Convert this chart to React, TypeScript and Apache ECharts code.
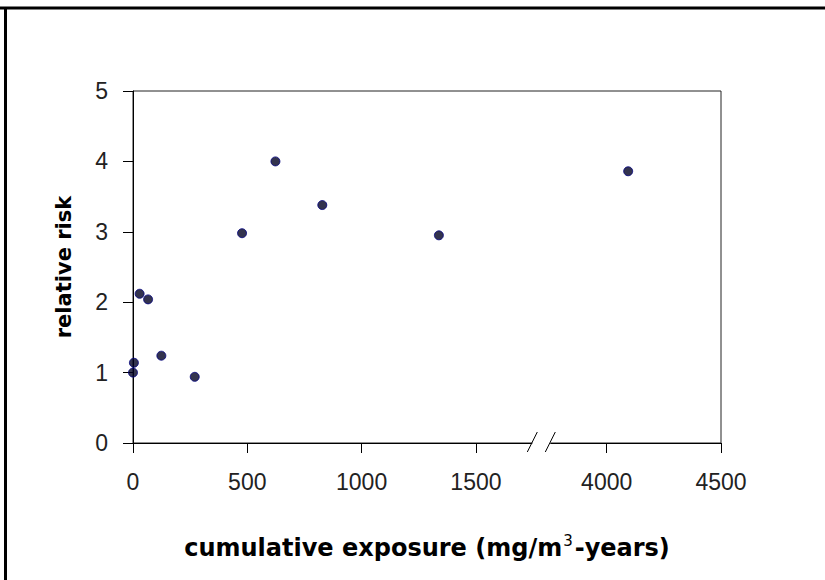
import React, { useEffect, useRef } from "react";
import * as echarts from "echarts";

// cumulative exposure (mg/m3-years), real values
const exposure = [0, 4, 29, 66, 124, 270, 477, 623, 828, 1338, 4094];
// relative risk
const relativeRisk = [1.0, 1.14, 2.12, 2.04, 1.24, 0.94, 2.98, 4.0, 3.38, 2.95, 3.86];
// x tick labels (real values)
const xTickLabels = [0, 500, 1000, 1500, 4000, 4500];
// y ticks
const yMin = 0;
const yMax = 5;
const yInterval = 1;

// axis break: real 1500..4000 is compressed
const LOW_END_REAL = 1500;
const HIGH_START_REAL = 4000;
const HIGH_START_AXIS = 2072;
const toAxis = (v: number) => (v <= 2000 ? v : v - HIGH_START_REAL + HIGH_START_AXIS);
const BREAK_AXIS = (LOW_END_REAL + HIGH_START_AXIS) / 2;
const X_MAX_AXIS = toAxis(4500);

export default function App() {
  const ref = useRef<HTMLDivElement>(null);
  useEffect(() => {
    const chart = echarts.init(ref.current!, null, { renderer: "svg" });
    const tickAxisVals = xTickLabels.map(toAxis);
    chart.setOption({
      animation: false,
      backgroundColor: "#ffffff",
      grid: {
        left: 133,
        right: 104,
        top: 91,
        bottom: 137,
        show: true,
        borderColor: "#222",
        borderWidth: 1,
        backgroundColor: "transparent",
        outerBoundsMode: "none",
      },
      xAxis: {
        type: "value",
        min: 0,
        max: X_MAX_AXIS,
        splitLine: { show: false },
        axisLine: { show: true, lineStyle: { color: "#000", width: 1 } },
        axisTick: { show: true, inside: false, length: 10, lineStyle: { color: "#000" }, customValues: tickAxisVals },
        axisLabel: {
          customValues: tickAxisVals,
          margin: 27,
          fontFamily: "Liberation Sans",
          fontSize: 23,
          color: "#222",
          formatter: (val: number) => {
            const i = tickAxisVals.findIndex((t) => Math.abs(t - val) < 1e-6);
            return i >= 0 ? String(xTickLabels[i]) : "";
          },
        },
      },
      yAxis: {
        type: "value",
        min: yMin,
        max: yMax,
        interval: yInterval,
        splitLine: { show: false },
        axisLine: { show: true, lineStyle: { color: "#000", width: 1 } },
        axisTick: { show: true, inside: false, length: 10, lineStyle: { color: "#000" } },
        axisLabel: {
          margin: 25,
          fontFamily: "Liberation Sans",
          fontSize: 23,
          color: "#222",
        },
      },
      series: [
        {
          type: "scatter",
          symbol: "circle",
          symbolSize: 9,
          itemStyle: { color: "#000022", borderColor: "#000080", borderWidth: 1 },
          data: exposure.map((x, i) => [toAxis(x), relativeRisk[i]]),
        },
      ],
    });
    const [bx, by] = chart.convertToPixel({ gridIndex: 0 }, [BREAK_AXIS, 0]) as number[];
    const left = chart.convertToPixel({ gridIndex: 0 }, [0, 0]) as number[];
    const right = chart.convertToPixel({ gridIndex: 0 }, [X_MAX_AXIS, yMax]) as number[];
    const cx = (left[0] + right[0]) / 2;
    const cy = (left[1] + right[1]) / 2;
    chart.setOption({
      graphic: [
        { type: "line", shape: { x1: 0, y1: 8, x2: 825, y2: 8 }, style: { stroke: "#000", lineWidth: 3 }, z: 100 },
        { type: "line", shape: { x1: 5.5, y1: 7, x2: 5.5, y2: 580 }, style: { stroke: "#000", lineWidth: 3 }, z: 100 },
        { type: "rect", shape: { x: bx - 9, y: by - 3, width: 18, height: 6 }, style: { fill: "#fff" }, z: 100 },
        { type: "line", shape: { x1: bx - 14, y1: by + 9, x2: bx - 4, y2: by - 11 }, style: { stroke: "#000", lineWidth: 1 }, z: 101 },
        { type: "line", shape: { x1: bx + 4, y1: by + 9, x2: bx + 14, y2: by - 11 }, style: { stroke: "#000", lineWidth: 1 }, z: 101 },
        {
          type: "text",
          x: cx,
          y: 548,
          z: 100,
          style: {
            text: "{a|cumulative exposure (mg/m}{s|3}{a|-years)}",
            align: "center",
            verticalAlign: "middle",
            rich: {
              a: { fontFamily: "DejaVu Sans", fontWeight: "bold", fontSize: 24, fill: "#000", lineHeight: 30 },
              s: { fontFamily: "DejaVu Sans", fontSize: 15, fill: "#000", lineHeight: 30, padding: [0, 2, 15, 1] },
            },
          },
        },
        {
          type: "text",
          x: 64,
          y: cy,
          rotation: Math.PI / 2,
          z: 100,
          style: {
            text: "relative risk",
            align: "center",
            verticalAlign: "middle",
            fontFamily: "DejaVu Sans",
            fontWeight: "bold",
            fontSize: 21,
            fill: "#000",
          },
        },
      ],
    });
    return () => chart.dispose();
  }, []);
  return <div ref={ref} style={{ position: "fixed", left: 0, top: 0, width: 825, height: 580 }} />;
}
